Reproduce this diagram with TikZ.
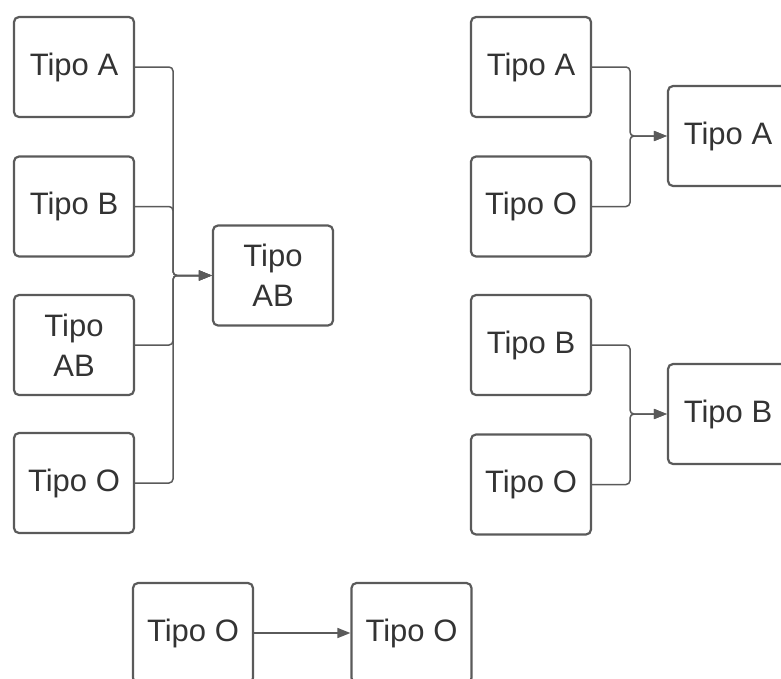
\documentclass[tikz,border=0pt]{standalone}
\usepackage{fontspec}
\setmainfont{Liberation Sans}
\usetikzlibrary{arrows.meta}
\definecolor{edge}{HTML}{5A5A5A}
\definecolor{txt}{HTML}{333333}
\tikzset{
  box/.style={draw=edge, line width=2.2pt, rounded corners=5pt, minimum width=120pt, minimum height=100pt,
    align=center, text=txt, font=\fontsize{31}{40}\selectfont, inner sep=0pt},
  conn/.style={draw=edge, line width=1.5pt, rounded corners=4pt, -{Triangle[length=13pt,width=10pt]}}
}
\begin{document}
\begin{tikzpicture}[x=1pt,y=-1pt]
\useasboundingbox (0,0) rectangle (781,678);
\clip (0,0) rectangle (781,678);
% left group
\node[box] (lA) at (74,67) {Tipo A};
\node[box] (lB) at (74,206.5) {Tipo B};
\node[box] (lAB) at (74,345) {Tipo\\AB};
\node[box] (lO) at (74,483) {Tipo O};
\node[box] (tAB) at (273,275.5) {Tipo\\AB};
\coordinate (jL) at (173,275.5);
\foreach \s in {lA,lB,lAB,lO}{
  \draw[conn] (\s.east) -| (jL) -- (tAB.west);
}
% right group A
\node[box] (rA) at (531,67) {Tipo A};
\node[box] (rO1) at (531,206.5) {Tipo O};
\node[box] (tA) at (728,136) {Tipo A};
\coordinate (jA) at (630,136);
\foreach \s in {rA,rO1}{
  \draw[conn] (\s.east) -| (jA) -- (tA.west);
}
% right group B
\node[box] (rB) at (531,345) {Tipo B};
\node[box] (rO2) at (531,484.5) {Tipo O};
\node[box] (tB) at (728,414) {Tipo B};
\coordinate (jB) at (630,414);
\foreach \s in {rB,rO2}{
  \draw[conn] (\s.east) -| (jB) -- (tB.west);
}
% bottom
\node[box] (bO1) at (193,633) {Tipo O};
\node[box] (bO2) at (411.5,633) {Tipo O};
\draw[conn] (bO1.east) -- (bO2.west);
\end{tikzpicture}
\end{document}
